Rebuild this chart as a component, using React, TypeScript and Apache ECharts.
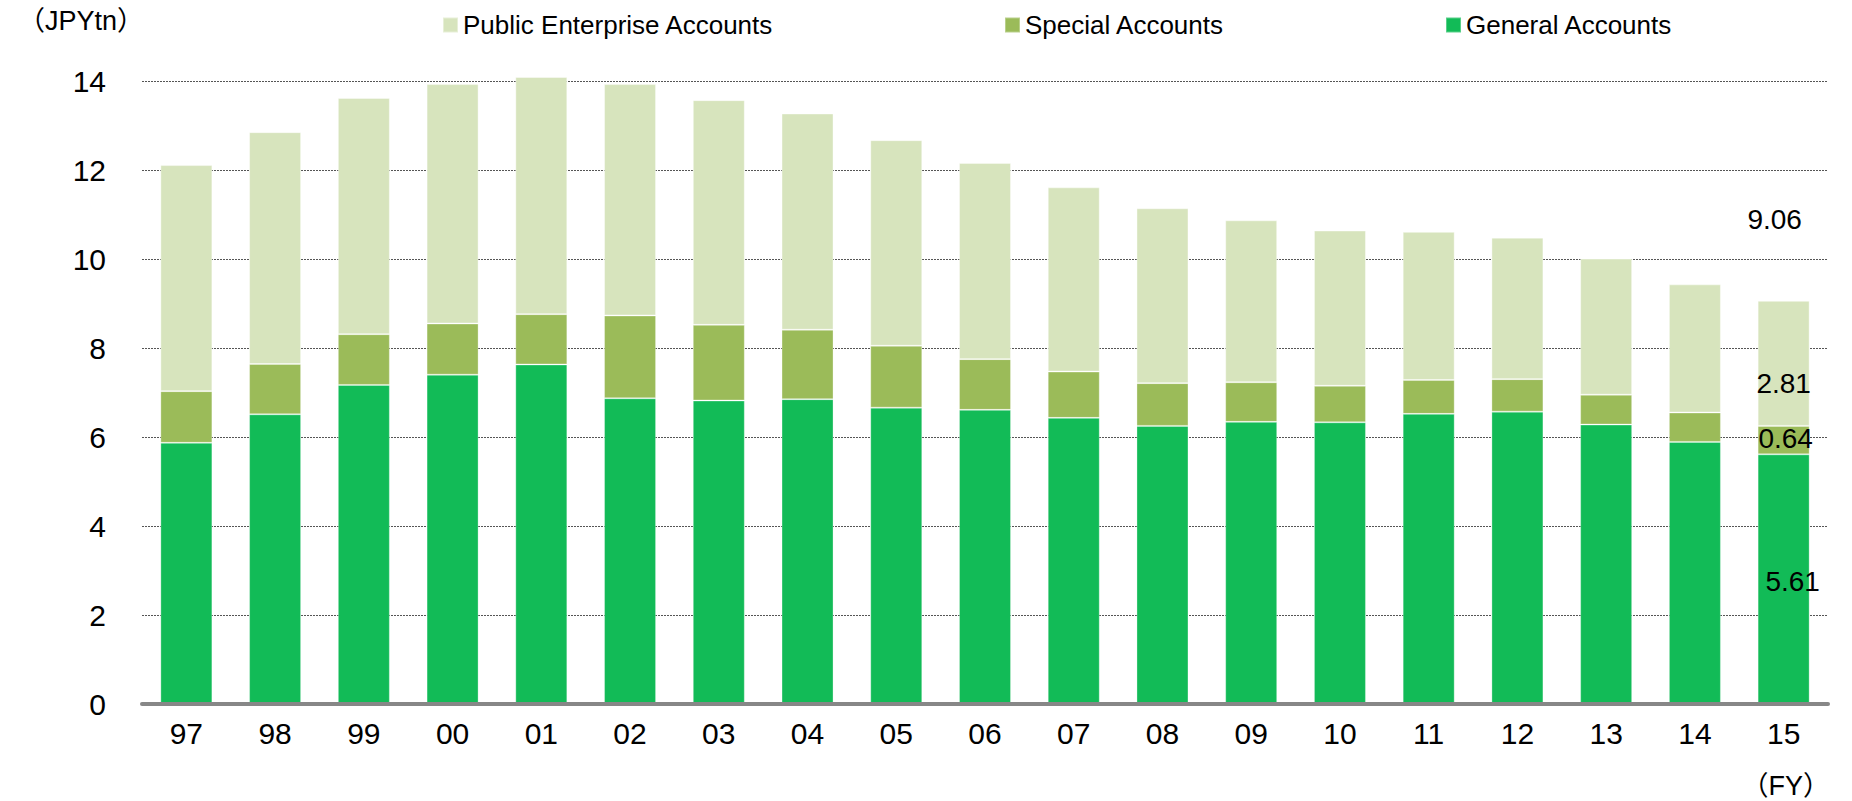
import React, { useEffect, useRef } from "react";
import * as echarts from "echarts";

const categories = ["97", "98", "99", "00", "01", "02", "03", "04", "05", "06", "07", "08", "09", "10", "11", "12", "13", "14", "15"];
const generalAccounts = [5.87, 6.51, 7.17, 7.40, 7.63, 6.87, 6.82, 6.85, 6.66, 6.61, 6.43, 6.25, 6.34, 6.33, 6.52, 6.57, 6.28, 5.89, 5.61];
const specialAccounts = [1.16, 1.13, 1.14, 1.15, 1.13, 1.86, 1.70, 1.56, 1.39, 1.14, 1.04, 0.96, 0.89, 0.82, 0.76, 0.73, 0.67, 0.66, 0.64];
const publicEnterpriseAccounts = [5.08, 5.21, 5.31, 5.38, 5.33, 5.20, 5.05, 4.86, 4.62, 4.41, 4.14, 3.93, 3.64, 3.49, 3.33, 3.18, 3.06, 2.88, 2.81];
const yTicks = [0, 2, 4, 6, 8, 10, 12, 14];

const FONT = "'Liberation Sans', Arial, 'Noto Sans CJK JP', sans-serif";

export default function App() {
  const ref = useRef<HTMLDivElement>(null);

  useEffect(() => {
    if (!ref.current) return;
    const chart = echarts.init(ref.current, null, { renderer: "svg" });
    const last = categories.length - 1;
    const totals = categories.map((_, i) =>
      Math.round((generalAccounts[i] + specialAccounts[i] + publicEnterpriseAccounts[i]) * 100) / 100
    );
    const lbl = (offset: number[]) => ({
      show: true,
      position: "inside",
      offset,
      color: "#000",
      opacity: 1,
      fontSize: 28,
      fontFamily: FONT,
      formatter: (p: any) => Number(p.value).toFixed(2),
    });
    const withLast = (arr: number[], offset: number[]) =>
      arr.map((v, i) => (i === last ? { value: v, label: lbl(offset) } : v));

    const legendBase = {
      top: 12,
      itemWidth: 15,
      itemHeight: 15,
      padding: 0,
      icon: "rect",
      textStyle: { fontSize: 26, color: "#000", fontFamily: FONT },
    };

    chart.setOption({
      animation: false,
      textStyle: { fontFamily: FONT },
      grid: { left: 142, right: 24, top: 81, bottom: 97 },
      legend: [
        { ...legendBase, left: 442, data: ["Public Enterprise Accounts"] },
        { ...legendBase, left: 1004, data: ["Special Accounts"] },
        { ...legendBase, left: 1445, data: ["General Accounts"] },
      ],
      xAxis: {
        type: "category",
        data: categories,
        axisTick: { show: false },
        axisLine: { show: true, lineStyle: { color: "#878787", width: 4 } },
        axisLabel: { fontSize: 30, color: "#000", margin: 14, fontFamily: FONT },
        z: 10,
      },
      yAxis: {
        type: "value",
        min: yTicks[0],
        max: yTicks[yTicks.length - 1],
        interval: 2,
        axisLine: { show: false },
        axisTick: { show: false },
        axisLabel: { fontSize: 30, color: "#000", margin: 36, fontFamily: FONT },
        splitLine: { show: true, lineStyle: { color: "#555", type: [2, 1], width: 1 } },
      },
      series: [
        {
          name: "General Accounts",
          type: "bar",
          stack: "total",
          barWidth: 52,
          clip: false,
          itemStyle: { color: "#12BB57", borderColor: "rgba(255,255,255,0.3)", borderWidth: 1 },
          data: withLast(generalAccounts, [9, 2]),
        },
        {
          name: "Special Accounts",
          type: "bar",
          stack: "total",
          barWidth: 52,
          clip: false,
          itemStyle: { color: "#9BBB59", borderColor: "rgba(255,255,255,0.3)", borderWidth: 1 },
          data: withLast(specialAccounts, [2, -2]),
        },
        {
          name: "Public Enterprise Accounts",
          type: "bar",
          stack: "total",
          barWidth: 52,
          clip: false,
          itemStyle: { color: "#D7E4BD", borderColor: "rgba(255,255,255,0.4)", borderWidth: 1 },
          data: withLast(publicEnterpriseAccounts, [0, 20]),
        },
        {
          name: "Total",
          type: "scatter",
          symbolSize: 0,
          silent: true,
          itemStyle: { opacity: 1 },
          data: totals.map((v, i) => (i === last ? { value: v, label: lbl([-9, -81]) } : { value: v, label: { show: false } })),
        },
      ],
      graphic: [
        {
          type: "text",
          left: 18,
          top: 7,
          style: { text: "（JPYtn）", fontSize: 27, fill: "#000", fontFamily: FONT },
        },
        {
          type: "text",
          right: 22,
          top: 772,
          style: { text: "（FY）", fontSize: 27, fill: "#000", fontFamily: FONT },
        },
      ],
    });
    return () => chart.dispose();
  }, []);

  return (
    <div
      ref={ref}
      style={{ position: "fixed", left: 0, top: 0, width: 1852, height: 801, background: "#fff" }}
    />
  );
}
